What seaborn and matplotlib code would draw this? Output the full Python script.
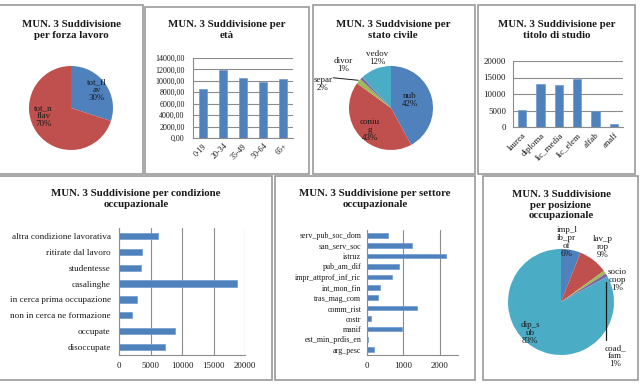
import numpy as np
import pandas as pd
import matplotlib
matplotlib.use("Agg")
import matplotlib.pyplot as plt
from matplotlib.patches import Rectangle
from matplotlib.ticker import FuncFormatter
import seaborn as sns

# ---------------- data ----------------
forza_labels = ["tot_fl\nav", "tot_n\nflav"]
forza_values = [30, 70]

eta_labels = ["0-19", "20-34", "35-49", "50-64", "65+"]
eta_values = [8650, 11950, 10500, 9750, 10400]

civile_labels = ["nub", "coniu\ng", "separ", "divor", "vedov"]
civile_values = [42, 43, 2, 1, 12]

studio_labels = ["laurea", "diploma", "lic_media", "lic_elem", "alfab", "analf"]
studio_values = [5100, 12900, 12800, 14500, 5000, 850]

cond_labels = ["altra condizione lavorativa", "ritirate dal lavoro", "studentesse",
               "casalinghe", "in cerca prima occupazione", "non in cerca ne formazione",
               "occupate", "disoccupate"]
cond_values = [6250, 3650, 3500, 18780, 2900, 2000, 8950, 7300]

settore_labels = ["serv_pub_soc_dom", "san_serv_soc", "istruz", "pub_am_dif",
                  "impr_attprof_inf_ric", "int_mon_fin", "tras_mag_com", "comm_rist",
                  "costr", "manif", "est_min_prdis_en", "arg_pesc"]
settore_values = [580, 1235, 2160, 890, 690, 355, 290, 1380, 115, 950, 35, 190]

posiz_labels = ["imp_l\nib_pr\nof", "lav_p\nrop", "socio\ncoop", "coad_\nfam", "dip_s\nub"]
posiz_values = [6, 9, 1, 1, 83]

BLUE, RED, GREEN, PURPLE, TEAL = "#4F81BD", "#C0504D", "#9BBB59", "#8064A2", "#4BACC6"

# ---------------- setup ----------------
sns.set_style("white")
plt.rcParams["font.family"] = ["Liberation Serif", "DejaVu Serif"]
W, H = 642, 387
fig = plt.figure(figsize=(W / 100, H / 100), dpi=100)
fig.patch.set_facecolor("white")

TXT = "#1a1a1a"
TITLE_FS = 7.8
GRID = "#8c8c8c"
BAR_EC = "#6f9bd1"


def px_axes(x0, y0, x1, y1):
    return fig.add_axes([x0 / W, 1 - y1 / H, (x1 - x0) / W, (y1 - y0) / H])


def panel(x0, y0, x1, y1):
    fig.add_artist(Rectangle((x0 / W, 1 - y1 / H), (x1 - x0) / W, (y1 - y0) / H,
                             transform=fig.transFigure, fill=False,
                             ec="#9a9a9a", lw=1.2))


def title(cx, cy, s):
    fig.text(cx / W, 1 - cy / H, s, ha="center", va="center", fontsize=TITLE_FS,
             fontweight="bold", color=TXT, linespacing=1.15)


def pie_axes(rect, cx, cy, r):
    x0, y0, x1, y1 = rect
    ax = px_axes(x0, y0, x1, y1)
    return ax, ((x0 - cx) / r, (x1 - cx) / r), ((cy - y1) / r, (cy - y0) / r)


def style_cat_axis(ax, n, axis):
    if axis == "x":
        ax.set_xlim(-0.5, n - 0.5)
        ax.set_xticks(np.arange(-0.5, n), minor=True)
        ax.tick_params(axis="x", which="major", length=0, pad=3)
        ax.tick_params(axis="x", which="minor", length=3, color=GRID, width=0.8)
    else:
        ax.set_ylim(n - 0.5, -0.5)
        ax.set_yticks(np.arange(-0.5, n), minor=True)
        ax.tick_params(axis="y", which="major", length=0, pad=4)
        ax.tick_params(axis="y", which="minor", length=3, color=GRID, width=0.8)


def common(ax, fs):
    for s in ["top", "right"]:
        ax.spines[s].set_visible(False)
    for s in ["left", "bottom"]:
        ax.spines[s].set_color(GRID)
        ax.spines[s].set_linewidth(0.8)
    ax.set_axisbelow(True)
    ax.set_xlabel("")
    ax.set_ylabel("")
    ax.tick_params(labelsize=fs, colors=TXT)
    ax.set_facecolor("none")


# panel borders
panel(-1, 5, 143, 174)
panel(145, 7, 309, 174)
panel(313, 5, 475, 174)
panel(478, 5, 635, 174)
panel(-1, 176, 272, 380)
panel(275, 176, 475, 380)
panel(483, 176, 638, 380)

# ---------- Panel 1: forza lavoro ----------
title(71, 30, "MUN. 3 Suddivisione\nper forza lavoro")
ax, xl, yl = pie_axes((0, 50, 143, 172), 71, 108, 42)
ax.pie(forza_values, colors=[BLUE, RED], startangle=90, counterclock=False,
       radius=1, wedgeprops=dict(linewidth=0))
ax.set_aspect("auto"); ax.set_xlim(*xl); ax.set_ylim(*yl); ax.axis("off")
pct = [f"{v}%" for v in forza_values]
ax.text(0.62, 0.43, forza_labels[0] + "\n" + pct[0], ha="center", va="center",
        fontsize=6.5, color=TXT, linespacing=1.0)
ax.text(-0.66, -0.2, forza_labels[1] + "\n" + pct[1], ha="center", va="center",
        fontsize=6.5, color=TXT, linespacing=1.0)

# ---------- Panel 2: età ----------
title(227, 30, "MUN. 3 Suddivisione per\netà")
ax = px_axes(193, 58, 293, 138)
df = pd.DataFrame({"cat": eta_labels, "val": eta_values})
sns.barplot(data=df, x="cat", y="val", color=BLUE, saturation=1, width=0.4, ax=ax,
            edgecolor=BAR_EC, linewidth=0.5)
common(ax, 5.8)
style_cat_axis(ax, len(eta_labels), "x")
ax.set_ylim(0, 14000)
ax.set_yticks(np.arange(0, 14001, 2000))
ax.yaxis.set_major_formatter(FuncFormatter(lambda v, p: f"{v:.2f}".replace(".", ",")))
ax.tick_params(axis="y", length=0, pad=6)
ax.grid(axis="y", color=GRID, lw=0.8)
plt.setp(ax.get_xticklabels(), rotation=45, ha="right", rotation_mode="anchor")

# ---------- Panel 3: stato civile ----------
title(393, 30, "MUN. 3 Suddvisione per\nstato civile")
ax, xl, yl = pie_axes((313, 45, 475, 172), 391, 108, 42)
ax.pie(civile_values, colors=[BLUE, RED, GREEN, PURPLE, TEAL], startangle=90,
       counterclock=False, radius=1, wedgeprops=dict(linewidth=0))
ax.set_aspect("auto"); ax.set_xlim(*xl); ax.set_ylim(*yl); ax.axis("off")
cpos = [(0.45, 0.2), (-0.5, -0.52), (-1.62, 0.58), (-1.14, 1.02), (-0.33, 1.2)]
for lab, v, (tx, ty) in zip(civile_labels, civile_values, cpos):
    ax.text(tx, ty, f"{lab}\n{v}%", ha="center", va="center", fontsize=6.5,
            color=TXT, linespacing=1.0)
ax.plot([-1.38, -0.78], [0.72, 0.66], color=TXT, lw=0.7, clip_on=False)

# ---------- Panel 4: titolo di studio ----------
title(557, 30, "MUN. 3 Suddivisione per\ntitolo di studio")
ax = px_axes(513, 61, 623, 127)
df = pd.DataFrame({"cat": studio_labels, "val": studio_values})
sns.barplot(data=df, x="cat", y="val", color=BLUE, saturation=1, width=0.45, ax=ax,
            edgecolor=BAR_EC, linewidth=0.5)
common(ax, 6.4)
style_cat_axis(ax, len(studio_labels), "x")
ax.set_ylim(0, 20000)
ax.set_yticks(np.arange(0, 20001, 5000))
ax.tick_params(axis="y", length=0, pad=5)
ax.grid(axis="y", color=GRID, lw=0.8)
plt.setp(ax.get_xticklabels(), rotation=45, ha="right", rotation_mode="anchor")

# ---------- Panel 5: condizione occupazionale ----------
title(136, 199, "MUN. 3 Suddivisione per condizione\noccupazionale")
ax = px_axes(119, 228, 245, 355)
df = pd.DataFrame({"cat": cond_labels, "val": cond_values})
sns.barplot(data=df, x="val", y="cat", orient="h", color=BLUE, saturation=1,
            width=0.4, ax=ax, edgecolor=BAR_EC, linewidth=0.5)
common(ax, 6.6)
style_cat_axis(ax, len(cond_labels), "y")
ax.tick_params(axis="y", which="major", pad=6)
ax.set_xlim(0, 20000)
ax.set_xticks(np.arange(0, 20001, 5000))
ax.tick_params(axis="x", length=0, pad=5, labelsize=6.4)
ax.grid(axis="x", color=GRID, lw=0.8)

# ---------- Panel 6: settore occupazionale ----------
title(375, 199, "MUN. 3 Suddivisione per settore\noccupazionale")
ax = px_axes(367, 230, 458, 355)
df = pd.DataFrame({"cat": settore_labels, "val": settore_values})
sns.barplot(data=df, x="val", y="cat", orient="h", color=BLUE, saturation=1,
            width=0.45, ax=ax, edgecolor=BAR_EC, linewidth=0.5)
common(ax, 5.8)
style_cat_axis(ax, len(settore_labels), "y")
ax.set_xlim(0, 2500)
ax.set_xticks([0, 1000, 2000])
ax.tick_params(axis="x", length=0, pad=5, labelsize=6.4)
ax.grid(axis="x", color=GRID, lw=0.8)

# ---------- Panel 7: posizione occupazionale ----------
title(561, 205, "MUN. 3 Suddivisione\nper posizione\noccupazionale")
ax, xl, yl = pie_axes((483, 222, 638, 380), 561, 302, 53)
ax.pie(posiz_values, colors=[BLUE, RED, GREEN, PURPLE, TEAL], startangle=90,
       counterclock=False, radius=1, wedgeprops=dict(linewidth=0))
ax.set_aspect("auto"); ax.set_xlim(*xl); ax.set_ylim(*yl); ax.axis("off")
ppos = [(0.11, 1.13), (0.78, 1.03), (1.06, 0.42), (1.02, -1.02), (-0.58, -0.58)]
for lab, v, (tx, ty) in zip(posiz_labels, posiz_values, ppos):
    ax.text(tx, ty, f"{lab}\n{v}%", ha="center", va="center", fontsize=6.5,
            color=TXT, linespacing=1.0)
ax.plot([0.85, 0.85], [0.38, -0.72], color=TXT, lw=0.9, clip_on=False)

fig.savefig("out.png", dpi=100, facecolor="white")
